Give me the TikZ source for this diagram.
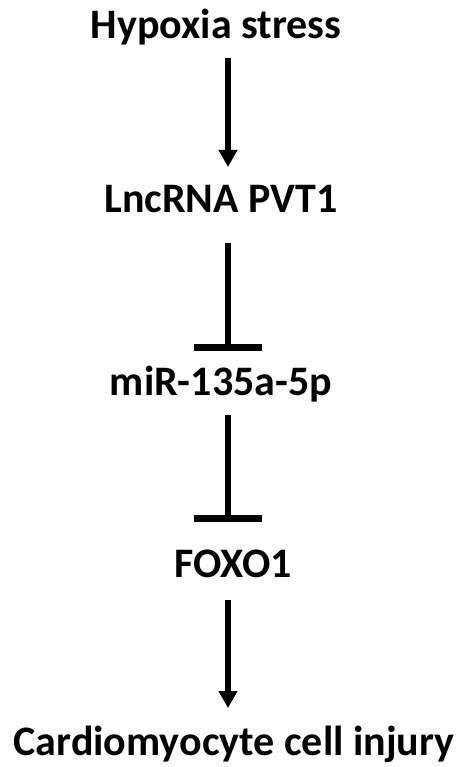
\documentclass[tikz,border=0pt]{standalone}
\usepackage{fontspec}
\setmainfont{Carlito}
\usetikzlibrary{arrows.meta}
\begin{document}
\begin{tikzpicture}[x=1pt,y=-1pt,
  lbl/.style={anchor=base,inner sep=0pt,font=\fontsize{42}{46}\selectfont\bfseries},
  conn/.style={line width=6.5pt,draw=black},
  act/.style={conn,-{Triangle[width=18pt,length=17pt]}},
  inh/.style={conn,-{Bar[width=68pt]}}]
\useasboundingbox[fill=white] (0,0) rectangle (462,767);
\node[lbl] (hyp) at (216,39) {Hypoxia stress};
\node[lbl] (lnc) at (221,212) {LncRNA PVT1};
\node[lbl] (mir) at (221,395) {miR-135a-5p};
\node[lbl] (fox) at (233.5,577) {FOXO1};
\node[lbl] (car) at (234,755) {Cardiomyocyte cell injury};
\coordinate (a1s) at (228,58);
\coordinate (a1e) at (228,167);
\coordinate (a2s) at (228,243);
\coordinate (a2e) at (228,350.5);
\coordinate (a3s) at (228,415);
\coordinate (a3e) at (228,521.5);
\coordinate (a4s) at (228,600);
\coordinate (a4e) at (228,708);
\draw[act] (a1s) -- (a1e);
\draw[inh] (a2s) -- (a2e);
\draw[inh] (a3s) -- (a3e);
\draw[act] (a4s) -- (a4e);
\end{tikzpicture}
\end{document}
